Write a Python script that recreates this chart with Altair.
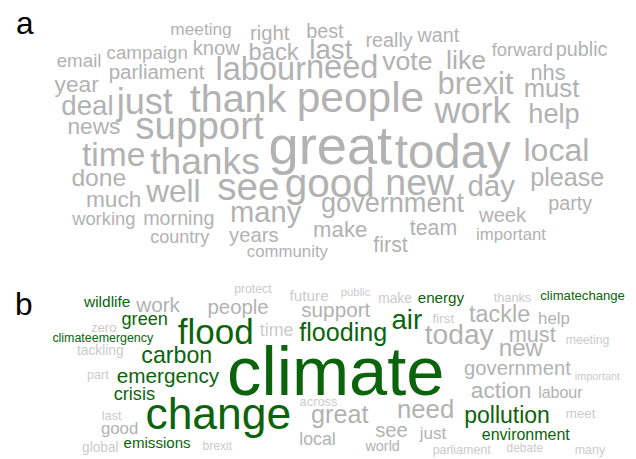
import altair as alt
import pandas as pd

# ---- panel a : word cloud (all grey) ----
words_a = ["meeting", "right", "best", "really", "want", "email", "campaign", "know", "back", "last",
           "forward", "public", "year", "parliament", "labour", "need", "vote", "like", "nhs", "must",
           "brexit", "deal", "just", "thank", "people", "work", "help", "news", "support", "great",
           "today", "local", "time", "thanks", "done", "please", "good", "new", "day", "much",
           "well", "see", "government", "party", "week", "working", "morning", "many", "make", "team",
           "important", "country", "years", "first", "community"]
x_a = [203.5, 273, 329, 394, 444, 80, 149, 219, 277, 335,
       529, 589, 77.5, 158.5, 264, 346.5, 412.5, 472, 555, 558.5,
       481.5, 88.5, 146.5, 241, 365, 478.5, 561, 95, 202, 334.5,
       458.5, 563.5, 115, 207.5, 100, 574.5, 334, 425, 497.5, 115,
       175.5, 251.5, 397.5, 577.5, 509, 105, 181, 269, 344.5, 439,
       517.5, 182, 257, 395.5, 291]
y_a = [32, 37, 35, 45, 40, 65, 57, 53, 58, 57,
       54, 54, 90, 77, 78, 76, 68, 67, 78, 95,
       92, 113, 112, 110, 110, 122, 122, 133, 138, 163,
       167, 160, 165, 173, 185, 185, 197, 195, 196, 207,
       202, 200, 212, 210, 222, 225, 225, 222, 237, 235,
       240, 243, 242, 252, 257]
s_a = [17.5, 20.5, 20, 20, 20, 19, 19, 20.5, 24, 28,
       18.6, 20, 23, 20.8, 33, 33, 27, 27, 22, 26,
       31.5, 28, 36.6, 40, 43, 36.5, 27.5, 23, 39, 55,
       48, 32.5, 34, 37.7, 25, 25.5, 41, 38, 30, 23,
       32, 39, 27.5, 20, 20.5, 18.6, 20, 29.5, 22.5, 21.6,
       17, 18.3, 20.5, 21.7, 17]

# ---- panel b : word cloud (green = climate words, grey = others) ----
words_b = ["protect", "wildlife", "work", "people", "future", "public", "make", "energy", "thanks", "climatechange",
           "zero", "green", "climateemergency", "tackling", "flood", "time", "support", "air", "first", "tackle",
           "help", "flooding", "today", "must", "meeting", "new", "carbon", "climate", "government", "important",
           "emergency", "part", "action", "labour", "crisis", "across", "last", "change", "great", "need",
           "pollution", "meet", "good", "see", "just", "environment", "local", "emissions", "global", "brexit",
           "world", "parliament", "debate", "many"]
x_b = [256, 108.5, 160, 241, 313, 360, 400, 446.5, 519, 590,
       105, 146.5, 104, 101.5, 218.5, 280, 340, 412, 449, 506,
       561, 347.5, 465, 539, 595, 527.5, 179, 340, 524, 605,
       170, 99, 507.5, 567.5, 136, 322.5, 113, 221, 344, 431,
       513.5, 588, 121, 396.5, 438.5, 532.5, 321.5, 159, 101.5, 220,
       387.5, 467.5, 531.5, 597.5]
y_b = [294, 308, 313, 315, 302, 297, 304, 304, 303, 301,
       333, 326, 343, 357, 345, 337, 318, 330, 324, 323,
       325, 342, 345, 343, 345, 358, 365, 397, 377, 382,
       385, 381, 400, 400, 402, 408, 422, 432, 425, 420,
       425, 420, 437, 440, 442, 443, 448, 451, 455, 453,
       454, 457, 455, 457]
s_b = [12.4, 15.7, 21, 20.6, 15.6, 11.5, 13.9, 15.4, 12.9, 13.3,
       13.4, 18.4, 12.6, 13.9, 35.5, 18, 21, 28, 13.7, 23.7,
       17, 25.4, 28.6, 22, 12.4, 24.5, 23.5, 69.5, 20.5, 11,
       21, 12.8, 23, 16.2, 18.4, 13, 13, 45, 25.5, 26,
       23.3, 13.5, 17, 20.5, 17.3, 16.2, 18, 15.3, 13.9, 12.3,
       14.6, 12.6, 12.1, 12.7]
kind_b = ["light", "green", "grey", "grey", "light", "light", "light", "green", "light", "green",
          "light", "green", "green", "light", "green", "light", "grey", "green", "light", "grey",
          "grey", "green", "grey", "grey", "light", "grey", "green", "green", "grey", "light",
          "green", "light", "grey", "grey", "green", "light", "light", "green", "grey", "grey",
          "green", "light", "grey", "grey", "grey", "green", "grey", "green", "light", "light",
          "grey", "light", "light", "light"]

panel_labels = ["a", "b"]
label_x = [25, 24]
label_y = [31, 316]

palette = {"grey": "#b2b2b2", "light": "#cbcbcb", "green": "#0b640b", "label": "#000000"}

SCALE = 1.0  # ink width -> font size correction

rows = []
for w, x, y, s in zip(words_a, x_a, y_a, s_a):
    rows.append({"word": w, "x": x, "y": y, "size": s * SCALE, "color": palette["grey"]})
for w, x, y, s, k in zip(words_b, x_b, y_b, s_b, kind_b):
    rows.append({"word": w, "x": x, "y": y, "size": s * SCALE, "color": palette[k]})
for w, x, y in zip(panel_labels, label_x, label_y):
    rows.append({"word": w, "x": x, "y": y, "size": 32, "color": palette["label"]})
df = pd.DataFrame(rows)

chart = alt.Chart(df).mark_text(
    font="Liberation Sans", align="center", baseline="alphabetic", clip=False
).encode(
    x=alt.X("x:Q", scale=alt.Scale(domain=[8, 636], nice=False, zero=False), axis=None),
    y=alt.Y("y:Q", scale=alt.Scale(domain=[8, 459], nice=False, zero=False, reverse=True), axis=None),
    text="word:N",
    size=alt.Size("size:Q", scale=None, legend=None),
    color=alt.Color("color:N", scale=None, legend=None),
).properties(
    width=628, height=451, autosize=alt.AutoSizeParams(type="none"), padding=0
).configure(background="white").configure_view(stroke=None, strokeWidth=0)

chart.save("out.html", embed_options={"renderer": "svg", "actions": False})
